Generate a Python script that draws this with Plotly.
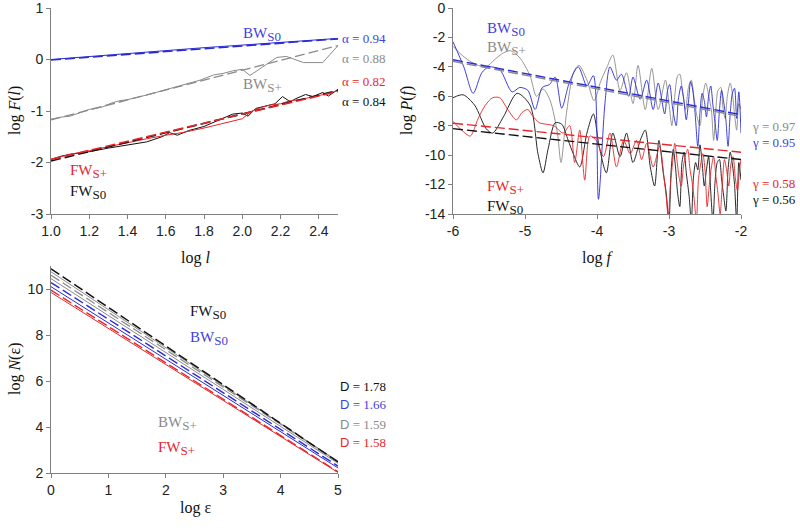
import plotly.graph_objects as go

# ---------------- data ----------------
# Panel A: log F(l) vs log l
fl_bw0_x = [1.0, 1.2, 1.4, 1.6, 1.8, 2.0, 2.2, 2.4, 2.5]
fl_bw0_y = [0.0, 0.06, 0.11, 0.17, 0.23, 0.28, 0.33, 0.38, 0.41]
fl_bwp_x = [1.0, 1.05, 1.1, 1.15, 1.2, 1.27, 1.32, 1.36, 1.4, 1.5, 1.6, 1.7, 1.78, 1.85, 1.9, 1.95, 2.0, 2.04,
            2.09, 2.13, 2.18, 2.23, 2.28, 2.32, 2.42, 2.46, 2.5]
fl_bwp_y = [-1.16, -1.12, -1.1, -1.03, -0.97, -0.92, -0.84, -0.8, -0.78, -0.69, -0.59, -0.49, -0.4, -0.3, -0.27,
            -0.22, -0.19, -0.31, -0.18, -0.08, 0.04, 0.06, 0.0, -0.06, -0.06, 0.1, 0.27]
fl_fw0_x = [1.0, 1.05, 1.1, 1.2, 1.3, 1.4, 1.5, 1.58, 1.62, 1.66, 1.72, 1.8, 1.88, 1.95, 2.0, 2.03, 2.07, 2.12,
            2.17, 2.21, 2.25, 2.28, 2.33, 2.37, 2.42, 2.45, 2.5]
fl_fw0_y = [-1.94, -1.88, -1.84, -1.79, -1.72, -1.66, -1.6, -1.5, -1.42, -1.47, -1.38, -1.3, -1.18, -1.06, -1.04,
            -1.1, -0.95, -0.9, -0.86, -0.72, -0.82, -0.76, -0.68, -0.72, -0.64, -0.71, -0.58]
fl_fwp_x = [1.0, 1.1, 1.2, 1.3, 1.4, 1.5, 1.6, 1.7, 1.8, 1.9, 1.95, 2.0, 2.05, 2.1, 2.15, 2.2, 2.25, 2.3, 2.35,
            2.4, 2.45, 2.5]
fl_fwp_y = [-1.94, -1.84, -1.77, -1.69, -1.62, -1.54, -1.47, -1.41, -1.33, -1.24, -1.2, -1.15, -1.0, -0.93, -0.88,
            -0.86, -0.8, -0.78, -0.74, -0.7, -0.66, -0.6]
fl_fit_x = [1.0, 2.5]
fl_fit_bw0 = [-0.01, 0.40]
fl_fit_bwp = [-1.17, 0.27]
fl_fit_fwp = [-1.94, -0.62]
fl_fit_fw0 = [-1.97, -0.6]
alpha_labels = ["α = 0.94", "α = 0.88", "α = 0.82", "α = 0.84"]

# Panel B: log P(f) vs log f
ps_bw0_x = [-6.0, -5.85, -5.72, -5.6, -5.5, -5.35, -5.18, -5.07, -4.96, -4.86, -4.76, -4.66, -4.58, -4.49, -4.38,
            -4.26, -4.14, -4.05, -3.98, -3.89, -3.82, -3.73, -3.66, -3.56, -3.5, -3.4, -3.31, -3.22, -3.15, -3.06,
            -3.02, -2.99, -2.95, -2.9, -2.87, -2.83, -2.8, -2.76, -2.73, -2.7, -2.67, -2.64, -2.6, -2.57, -2.54,
            -2.51, -2.48, -2.45, -2.42, -2.39, -2.36, -2.33, -2.3, -2.27, -2.24, -2.21, -2.18, -2.15, -2.12, -2.09,
            -2.06, -2.03, -2.0]
ps_bw0_y = [-2.3, -4.0, -5.8, -4.4, -4.0, -4.2, -5.7, -5.4, -5.6, -6.9, -5.4, -5.2, -4.7, -6.8, -5.0, -4.0, -5.3,
            -4.6, -13.0, -6.5, -4.0, -4.9, -4.5, -6.0, -4.7, -6.2, -4.9, -6.9, -5.1, -7.2,
            -5.6, -5.2, -6.8, -8.0, -6.2, -5.3, -6.0, -7.6, -6.4, -5.0, -5.6, -7.0, -9.4, -7.1, -5.8,
            -6.3, -7.4, -6.0, -5.3, -6.6, -7.8, -9.0, -7.0, -5.6, -6.4, -7.6, -9.4, -7.2, -5.8, -5.45,
            -7.5, -5.7, -8.5]
ps_bwp_x = [-6.0, -5.9, -5.77, -5.65, -5.54, -5.42, -5.3, -5.2, -5.07, -4.93, -4.84, -4.75, -4.65, -4.55, -4.5,
            -4.42, -4.32, -4.25, -4.14, -4.04, -3.95, -3.86, -3.78, -3.68, -3.59, -3.5, -3.43, -3.33, -3.24, -3.15,
            -3.05, -3.0, -2.96, -2.92, -2.88, -2.85, -2.81, -2.77, -2.73, -2.69, -2.65, -2.61, -2.57, -2.53, -2.49,
            -2.45, -2.41, -2.38, -2.35, -2.32, -2.28, -2.25, -2.22, -2.19, -2.15, -2.12, -2.09, -2.06, -2.03, -2.0]
ps_bwp_y = [-2.6, -3.1, -3.6, -3.9, -4.0, -3.5, -3.05, -2.9, -3.4, -4.6, -6.0, -5.5, -6.3, -8.5, -10.5, -7.0, -4.3,
            -3.9, -4.9, -6.3, -5.0, -4.0, -3.2, -5.6, -4.4, -6.5, -3.9, -6.9, -4.1, -6.9,
            -4.9, -6.5, -8.0, -6.0, -4.6, -4.5, -5.8, -6.9, -5.4, -4.9, -6.2, -7.4, -8.0, -6.0, -5.1,
            -5.9, -7.0, -9.0, -7.0, -5.6, -5.4, -6.8, -7.5, -6.0, -5.1, -5.8, -7.2, -8.3, -6.5, -6.9]
ps_fw0_x = [-6.0, -5.86, -5.7, -5.54, -5.45, -5.3, -5.11, -4.93, -4.82, -4.75, -4.68, -4.58, -4.49, -4.4, -4.33,
            -4.24, -4.14, -4.05, -3.97, -3.87, -3.78, -3.68, -3.59, -3.5, -3.4, -3.33, -3.26, -3.2, -3.14, -3.08,
            -3.04, -3.0, -2.97, -2.94, -2.91, -2.88, -2.85, -2.82, -2.79, -2.76, -2.72, -2.69, -2.66, -2.63, -2.6,
            -2.57, -2.54, -2.51, -2.48, -2.45, -2.42, -2.39, -2.36, -2.33, -2.3, -2.27, -2.24, -2.21, -2.18, -2.15,
            -2.12, -2.09, -2.06, -2.03, -2.0]
ps_fw0_y = [-6.1, -5.9, -6.6, -8.2, -8.5, -7.4, -5.8, -6.6, -9.9, -11.2, -9.6, -7.8, -7.9, -9.0, -9.9, -10.8, -8.5,
            -7.2, -9.4, -11.2, -8.5, -10.1, -8.5, -10.5, -9.0, -8.3, -10.8, -12.1, -9.0, -11.2,
            -12.5, -14.5, -11.0, -9.6, -10.8, -12.6, -13.5, -10.5, -9.8, -11.2, -12.8, -14.5, -11.5, -10.5, -11.0,
            -9.3, -10.5, -12.1, -11.0, -10.1, -12.5, -14.5, -11.8, -10.5, -10.3, -11.6, -12.8, -13.8, -11.0, -9.8,
            -10.6, -12.0, -14.5, -10.5, -11.7]
ps_fwp_x = [-6.0, -5.88, -5.76, -5.65, -5.55, -5.45, -5.35, -5.24, -5.12, -5.04, -4.96, -4.9, -4.8, -4.7, -4.6,
            -4.47, -4.38, -4.31, -4.24, -4.17, -4.1, -4.01, -3.91, -3.82, -3.73, -3.63, -3.54, -3.45, -3.38, -3.31,
            -3.22, -3.13, -3.07, -3.04, -3.01, -2.98, -2.95, -2.92, -2.89, -2.86, -2.83, -2.8, -2.77, -2.74, -2.71,
            -2.68, -2.65, -2.62, -2.59, -2.56, -2.53, -2.5, -2.47, -2.44, -2.41, -2.38, -2.35, -2.32, -2.29, -2.26,
            -2.23, -2.2, -2.17, -2.14, -2.11, -2.08, -2.05, -2.02, -2.0]
ps_fwp_y = [-7.7, -8.3, -8.7, -7.5, -6.6, -6.1, -6.1, -6.9, -7.6, -7.1, -6.9, -7.3, -7.8, -7.9, -8.0, -8.5, -8.0,
            -10.5, -8.3, -11.7, -8.7, -9.0, -10.1, -8.5, -10.8, -9.0, -9.9, -9.0, -10.3, -9.2,
            -10.8, -9.4, -11.5, -12.8, -14.2, -12.0, -10.5, -9.2, -10.3, -11.5, -12.1, -10.8, -10.0, -9.6, -10.9,
            -11.8, -13.0, -14.5, -11.6, -10.6, -9.9, -11.0, -13.5, -12.0, -10.8, -10.1, -11.4, -12.6, -14.0, -12.0,
            -10.3, -11.0, -12.1, -10.6, -10.1, -11.5, -12.4, -11.0, -10.3]
ps_fit_x = [-6.0, -2.0]
ps_fit_bw0 = [-3.52, -7.25]
ps_fit_bwp = [-3.63, -7.37]
ps_fit_fwp = [-7.83, -9.8]
ps_fit_fw0 = [-8.2, -10.3]
gamma_labels = ["γ = 0.97", "γ = 0.95", "γ = 0.58", "γ = 0.56"]

# Panel C: log N(eps) vs log eps
bc_x = [0, 5]
bc_fw0_fit = [10.88, 2.48]
bc_fw0 = [10.75, 2.5]
bc_bwp_fit = [10.6, 2.5]
bc_bwp = [10.45, 2.42]
bc_bw0_fit = [10.28, 2.3]
bc_bw0 = [10.1, 2.22]
bc_fwp_fit = [9.95, 2.05]
bc_fwp = [9.85, 2.02]
d_labels = ["1.78", "1.66", "1.59", "1.58"]

# tick labels
xa_ticks = [1.0, 1.2, 1.4, 1.6, 1.8, 2.0, 2.2, 2.4]
ya_ticks = [-3, -2, -1, 0, 1]
xb_ticks = [-6, -5, -4, -3, -2]
yb_ticks = [-14, -12, -10, -8, -6, -4, -2, 0]
xc_ticks = [0, 1, 2, 3, 4, 5]
yc_ticks = [2, 4, 6, 8, 10]

# ---------------- style ----------------
BLUE = "#2a2ad8"
BLUE_T = "#3f3fe0"
GRAY = "#8a8a8a"
RED = "#e8262a"
BLACK = "#111111"
SERIF = "Liberation Serif, Times New Roman, serif"
SANS = "Liberation Sans, Arial, sans-serif"
W, H = 800, 528
DASH = "10px,4px"

fig = go.Figure()


def line(x, y, color, ax, dash=None, width=1.0, shape="linear"):
    fig.add_trace(go.Scatter(x=x, y=y, mode="lines", xaxis="x" + ax, yaxis="y" + ax,
                             line=dict(color=color, width=width, dash=dash, shape=shape,
                                       smoothing=0.8 if shape == "spline" else None),
                             showlegend=False, hoverinfo="skip"))


# Panel A
line(fl_bwp_x, fl_bwp_y, GRAY, "")
line(fl_fit_x, fl_fit_bwp, GRAY, "", DASH, 1.3)
line(fl_fw0_x, fl_fw0_y, BLACK, "")
line(fl_fwp_x, fl_fwp_y, RED, "")
line(fl_fit_x, fl_fit_fw0, BLACK, "", DASH, 1.6)
line(fl_fit_x, fl_fit_fwp, RED, "", DASH, 1.6)
line(fl_bw0_x, fl_bw0_y, BLUE, "")
line(fl_fit_x, fl_fit_bw0, BLUE, "", DASH, 1.6)

# Panel B
line(ps_bwp_x, ps_bwp_y, GRAY, "2", width=0.9, shape="spline")
line(ps_fw0_x, ps_fw0_y, BLACK, "2", width=0.9, shape="spline")
line(ps_fwp_x, ps_fwp_y, RED, "2", width=0.9, shape="spline")
line(ps_bw0_x, ps_bw0_y, BLUE, "2", width=0.9, shape="spline")
line(ps_fit_x, ps_fit_bwp, GRAY, "2", DASH, 1.4)
line(ps_fit_x, ps_fit_bw0, BLUE, "2", DASH, 1.4)
line(ps_fit_x, ps_fit_fw0, BLACK, "2", DASH, 1.4)
line(ps_fit_x, ps_fit_fwp, RED, "2", DASH, 1.4)

# Panel C
line(bc_x, bc_fw0, GRAY, "3")
line(bc_x, bc_bwp, GRAY, "3")
line(bc_x, bc_bwp_fit, GRAY, "3", DASH, 1.3)
line(bc_x, bc_fw0_fit, BLACK, "3", DASH, 1.5)
line(bc_x, bc_bw0, BLUE, "3")
line(bc_x, bc_bw0_fit, BLUE, "3", DASH, 1.4)
line(bc_x, bc_fwp, RED, "3")
line(bc_x, bc_fwp_fit, RED, "3", DASH, 1.4)


def dom_x(a, b):
    return [a / W, b / W]


def dom_y(top, bottom):
    return [1 - bottom / H, 1 - top / H]


def hy(v, fmt):
    return (fmt % v).replace("\u2212", "-")


axis_common = dict(showgrid=False, zeroline=False, showline=True, linecolor="#7f7f7f", linewidth=1,
                   ticks="outside", ticklen=4, tickcolor="#7f7f7f", automargin=False,
                   ticklabeloverflow="allow",
                   tickfont=dict(family=SANS, size=14, color="#222"))

fig.update_layout(
    template="none",
    width=W, height=H, margin=dict(l=0, r=0, t=0, b=0, autoexpand=False),
    paper_bgcolor="white", plot_bgcolor="white", showlegend=False,
    xaxis=dict(domain=dom_x(51, 338), range=[1.0, 2.5], tickvals=xa_ticks,
               ticktext=[hy(v, "%.1f") for v in xa_ticks], anchor="y", **axis_common),
    yaxis=dict(domain=dom_y(8, 214), range=[-3, 1], tickvals=ya_ticks,
               ticktext=[hy(v, "%d") for v in ya_ticks], anchor="x", **axis_common),
    xaxis2=dict(domain=dom_x(453, 741), range=[-6, -2], tickvals=xb_ticks,
                ticktext=[hy(v, "%d") for v in xb_ticks], anchor="y2", **axis_common),
    yaxis2=dict(domain=dom_y(8, 214), range=[-14, 0], tickvals=yb_ticks,
                ticktext=[hy(v, "%d") for v in yb_ticks], anchor="x2", **axis_common),
    xaxis3=dict(domain=dom_x(51, 338), range=[0, 5], tickvals=xc_ticks,
                ticktext=[hy(v, "%d") for v in xc_ticks], anchor="y3", **axis_common),
    yaxis3=dict(domain=dom_y(266, 473), range=[2, 11], tickvals=yc_ticks,
                ticktext=[hy(v, "%d") for v in yc_ticks], anchor="x3", **axis_common),
)


def ann(text, px, py, color, size=14, xanchor="left", family=SERIF, angle=0):
    fig.add_annotation(text=text, x=px / W, y=1 - py / H, xref="paper", yref="paper",
                       xanchor=xanchor, yanchor="middle", showarrow=False, textangle=angle,
                       borderpad=0, borderwidth=0,
                       font=dict(family=family, size=size, color=color))


def lab(main, sub):
    return main + "<sub><span style='font-size:13px'>" + sub + "</span></sub>"


# Axis titles
ann("log <i>F</i>(<i>l</i>)", 15, 111, BLACK, 16, "center", angle=-90)
ann("log <i>l</i>", 195, 258, BLACK, 16, "center")
ann("log <i>P</i>(<i>f</i>)", 407, 111, BLACK, 16, "center", angle=-90)
ann("log <i>f</i>", 597, 258, BLACK, 16, "center")
ann("log <i>N</i>(ε)", 15, 369, BLACK, 16, "center", angle=-90)
ann("log ε", 195, 508, BLACK, 16, "center")

# Panel A labels
ann(lab("BW", "S0"), 243, 34, BLUE_T, 15)
ann(lab("BW", "S+"), 243, 85, GRAY, 15)
ann(lab("FW", "S+"), 70, 172, RED, 15)
ann(lab("FW", "S0"), 70, 193, BLACK, 15)
for txt, yy, c in zip(alpha_labels, [38, 58, 81, 102], [BLUE_T, GRAY, RED, BLACK]):
    ann(txt, 342, yy, c, 13)

# Panel B labels
ann(lab("BW", "S0"), 487, 29, BLUE_T, 15)
ann(lab("BW", "S+"), 487, 48, GRAY, 15)
ann(lab("FW", "S+"), 487, 187, RED, 15)
ann(lab("FW", "S0"), 487, 207, BLACK, 15)
for txt, yy, c in zip(gamma_labels, [127, 143, 183, 199], [GRAY, BLUE_T, RED, BLACK]):
    ann(txt, 752, yy, c, 13)

# Panel C labels
ann(lab("FW", "S0"), 190, 312, BLACK, 15)
ann(lab("BW", "S0"), 190, 338, BLUE_T, 15)
ann(lab("BW", "S+"), 158, 423, GRAY, 15)
ann(lab("FW", "S+"), 158, 448, RED, 15)
for txt, yy, c in zip(d_labels, [386, 404, 424, 442], [BLACK, BLUE_T, GRAY, RED]):
    ann("<span style='font-family:Liberation Sans'>D</span> = " + txt, 340, yy, c, 13)

fig.write_html("out.html", config={"displayModeBar": False},
               post_script="document.body.style.margin='0';document.body.style.overflow='hidden';")
